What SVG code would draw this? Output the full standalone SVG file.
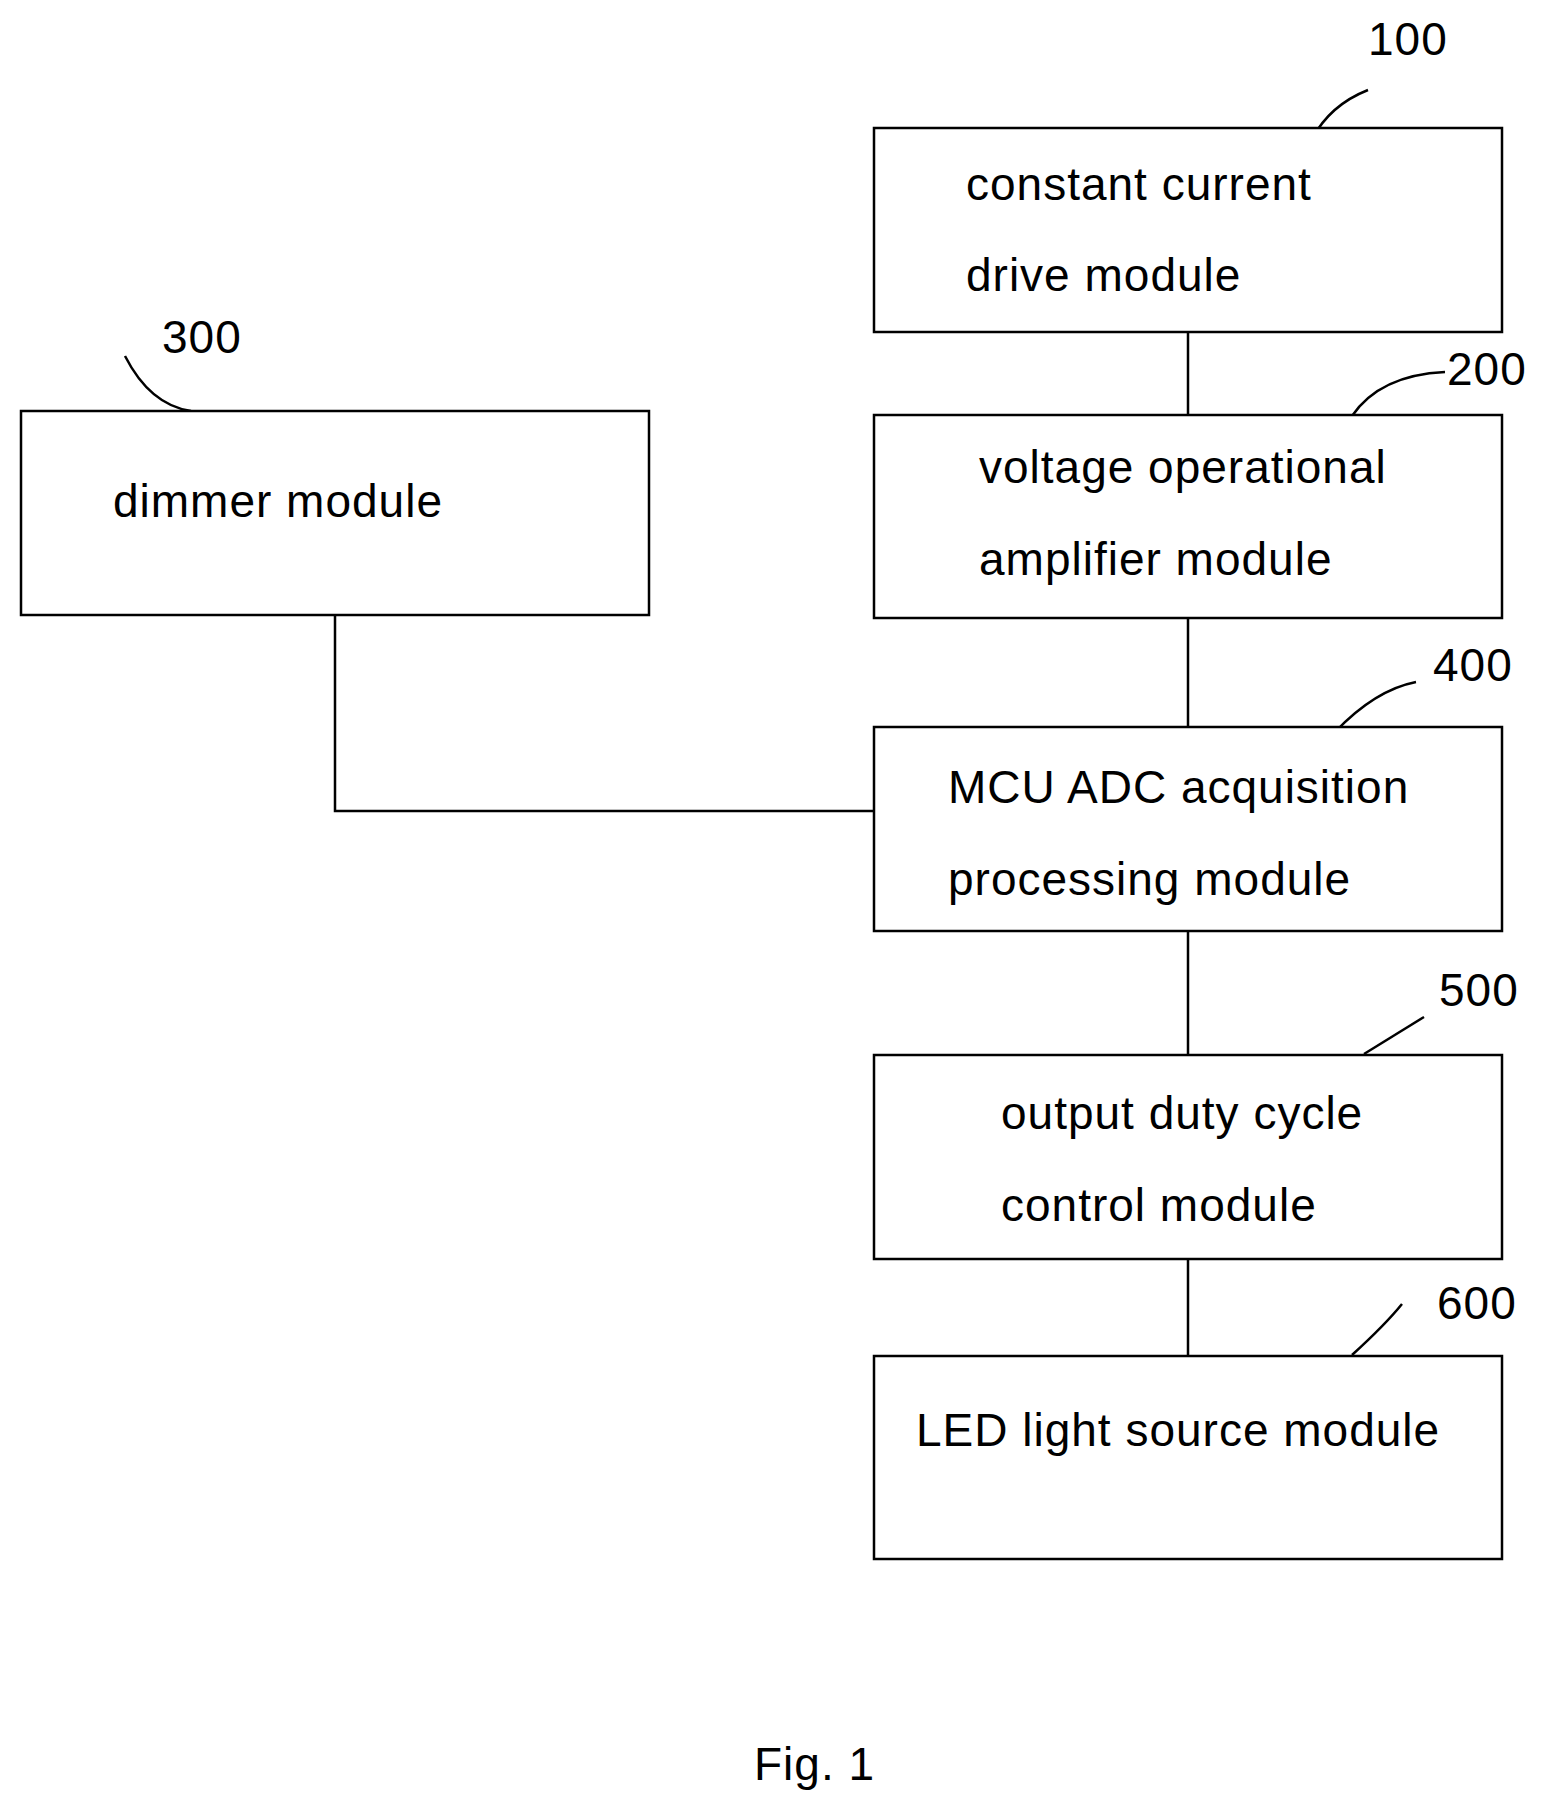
<svg xmlns="http://www.w3.org/2000/svg" width="1549" height="1812" viewBox="0 0 1549 1812">
<style>
.b{fill:#fff;stroke:#000;stroke-width:2.5}
.t{font-family:"Liberation Sans",Arial,sans-serif;font-size:46px;fill:#000;letter-spacing:1px}
.l{fill:none;stroke:#000;stroke-width:2.5}
</style>
<rect width="1549" height="1812" fill="#fff"/>
<g id="connectors">
<line class="l" x1="1188" y1="332" x2="1188" y2="415"/>
<line class="l" x1="1188" y1="618" x2="1188" y2="727"/>
<line class="l" x1="1188" y1="931" x2="1188" y2="1055"/>
<line class="l" x1="1188" y1="1259" x2="1188" y2="1356"/>
<polyline class="l" points="335,615 335,811 874,811"/>
<path class="l" d="M1312,139 Q1330,105 1368,90"/>
<path class="l" d="M1352,416 Q1380,375 1445,372"/>
<path class="l" d="M125,356 Q150,405 191,411"/>
<path class="l" d="M1335,732 Q1375,690 1416,682"/>
<path class="l" d="M1364,1054 L1424,1017"/>
<path class="l" d="M1352,1355 Q1385,1325 1402,1304"/>
</g>
<g id="n100"><rect class="b" x="874" y="128" width="628" height="204"/><text class="t" x="966" y="200">constant current</text><text class="t" x="966" y="291">drive module</text><text class="t" x="1368" y="55">100</text></g>
<g id="n200"><rect class="b" x="874" y="415" width="628" height="203"/><text class="t" x="979" y="483">voltage operational</text><text class="t" x="979" y="575">amplifier module</text><text class="t" x="1447" y="385">200</text></g>
<g id="n300"><rect class="b" x="21" y="411" width="628" height="204"/><text class="t" x="113" y="517">dimmer module</text><text class="t" x="162" y="353">300</text></g>
<g id="n400"><rect class="b" x="874" y="727" width="628" height="204"/><text class="t" x="948" y="803">MCU ADC acquisition</text><text class="t" x="948" y="895">processing module</text><text class="t" x="1433" y="681">400</text></g>
<g id="n500"><rect class="b" x="874" y="1055" width="628" height="204"/><text class="t" x="1001" y="1129">output duty cycle</text><text class="t" x="1001" y="1221">control module</text><text class="t" x="1439" y="1006">500</text></g>
<g id="n600"><rect class="b" x="874" y="1356" width="628" height="203"/><text class="t" x="916" y="1446">LED light source module</text><text class="t" x="1437" y="1319">600</text></g>
<text class="t" x="754" y="1780">Fig. 1</text>
</svg>
